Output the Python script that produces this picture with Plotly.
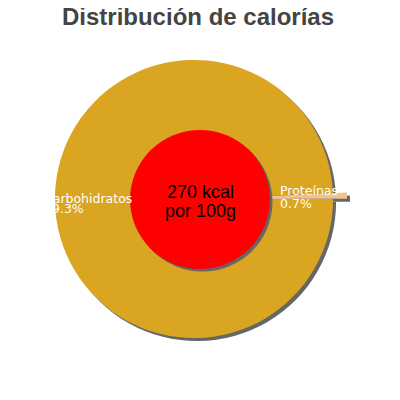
import plotly.graph_objects as go

# calorie split per 100 g
labels = ["Carbohidratos", "Proteínas"]
values = [99.3, 0.7]
colors = ["#DAA520", "#EFC38D"]
kcal = 270
title = "Distribución de calorías"

W = H = 400
OFF = 8  # page body margin around the plot div


def px_x(x):
    return (x - OFF) / W


def px_y(y):
    return 1 - (y - OFF) / H


pull = [0, 0.1]
# pie centred at (194, 199), radius 139 once pulled
dom_x = [px_x(194 - 153), px_x(194 + 153)]
dom_y = [px_y(199 + 153), px_y(199 - 153)]
shift = 3 / W  # drop shadow offset

fig = go.Figure()

# grey shadow pie behind the real one
fig.add_trace(
    go.Pie(
        labels=labels,
        values=values,
        sort=False,
        direction="clockwise",
        rotation=90,
        pull=pull,
        marker={"colors": ["#666666"] * len(values), "line": {"width": 0}},
        textinfo="none",
        hoverinfo="skip",
        showlegend=False,
        domain={"x": [dom_x[0] + shift, dom_x[1] + shift],
                "y": [dom_y[0] - shift, dom_y[1] - shift]},
    )
)
fig.add_trace(
    go.Pie(
        labels=labels,
        values=values,
        sort=False,
        direction="clockwise",
        rotation=90,
        pull=pull,
        marker={"colors": colors, "line": {"width": 0}},
        textinfo="none",
        hoverinfo="skip",
        showlegend=False,
        domain={"x": dom_x, "y": dom_y},
    )
)

# red centre disc with its shadow
s = 2.5 / W
cx0, cx1 = px_x(130), px_x(270)
cy0, cy1 = px_y(269), px_y(130)
fig.add_shape(type="circle", xref="paper", yref="paper", layer="above",
              x0=cx0 + s, x1=cx1 + s, y0=cy0 - s, y1=cy1 - s,
              fillcolor="#666666", line={"width": 0})
fig.add_shape(type="circle", xref="paper", yref="paper", layer="above",
              x0=cx0, x1=cx1, y0=cy0, y1=cy1,
              fillcolor="#FF0000", line={"width": 0})

center_font = {"family": "Liberation Sans, Arial", "size": 18, "color": "#000000"}
fig.add_annotation(x=px_x(200), y=px_y(192.5), xref="paper", yref="paper",
                   showarrow=False, text=f"{kcal} kcal", font=center_font)
fig.add_annotation(x=px_x(200), y=px_y(211), xref="paper", yref="paper",
                   showarrow=False, text="por 100g", font=center_font)

label_font = {"family": "DejaVu Sans", "size": 12.5, "color": "#FFFFFF"}
label_pos = [(42, 198, 209), (278, 190.5, 203)]
for lab, val, (lx, y1, y2) in zip(labels, values, label_pos):
    fig.add_annotation(x=px_x(lx), y=px_y(y1), xref="paper", yref="paper",
                       showarrow=False, xanchor="left", text=lab, font=label_font)
    fig.add_annotation(x=px_x(lx), y=px_y(y2), xref="paper", yref="paper",
                       showarrow=False, xanchor="left", text=f"{val}%",
                       font=label_font)

fig.update_layout(
    width=W,
    height=H,
    margin={"l": 0, "r": 0, "t": 0, "b": 0},
    paper_bgcolor="#FFFFFF",
    plot_bgcolor="#FFFFFF",
    title={
        "text": f"<b>{title}</b>",
        "x": px_x(198),
        "xanchor": "center",
        "y": px_y(17),
        "yanchor": "middle",
        "font": {"family": "Liberation Sans, Arial", "size": 24, "color": "#444444"},
    },
)

fig.write_html("out.html")
